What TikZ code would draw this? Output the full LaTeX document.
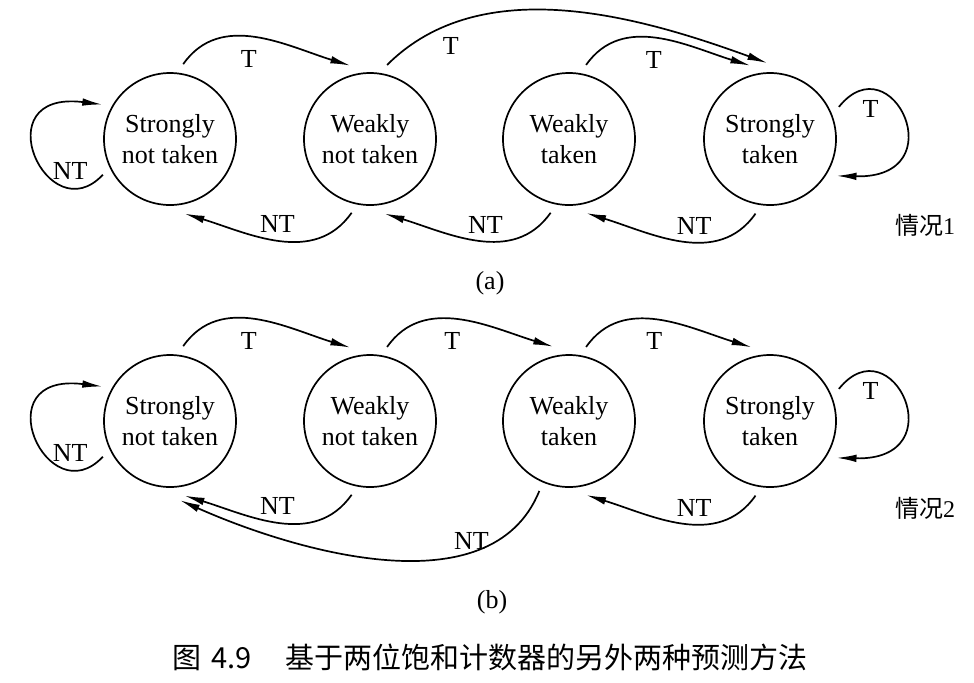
\documentclass[tikz,border=0pt]{standalone}
\usepackage{fontspec}
\setmainfont{Liberation Serif}
\newfontfamily\cjk{Noto Sans CJK SC}
\usetikzlibrary{arrows.meta}

\begin{document}
\begin{tikzpicture}[
        x = 0.5pt, y = 0.5pt,
        line width = 0.85pt, % line style
        >={Latex[length=10pt, width=3.8pt]}
    ]
    \tikzstyle{counter state}=[
        draw = black,
        line width = 0.85pt,
        circle,
        minimum size = 66pt,
        inner sep = 0pt,
        outer sep = 5pt,
        align = center,
        font = \fontsize{13}{15.5}\selectfont
    ]

    \tikzstyle{arc label}=[
        font = \fontsize{13}{15.5}\selectfont
    ]

    \tikzstyle{case label}=[
        font = \fontsize{12}{14}\selectfont
    ]

    \useasboundingbox (0, 0) rectangle (974, -682);

    % (a)
	\node[counter state] (snta) at (170, -139)   {Strongly\\not taken};
	\node[counter state] (wnta) at (370, -139)   {Weakly\\not taken};
	\node[counter state] (wta)  at (569, -139)   {Weakly\\taken};
	\node[counter state] (sta)  at (770, -139)   {Strongly\\taken};

	\path[->] (snta.80) edge [out=55, in=163] node[arc label, pos=0.45, below=3pt] {T} (wnta.105);
	\path[->] (wnta.77) edge [out=45, in=160, looseness=0.9] node[arc label, pos=0.2, below=3pt] {T} (sta.92);
	\path[->] (wta.77) edge [out=55, in=163] node[arc label, pos=0.47, below=3pt] {T} (sta.105);
	\path[->] (wnta.-104) edge [out=-125, in=-17] node[arc label, pos=0.5, above] {NT} (snta.-79);
	\path[->] (wta.-104) edge [out=-125, in=-17] node[arc label, pos=0.45, above] {NT} (wnta.-79);
	\path[->] (sta.-101) edge [out=-125, in=-17] node[arc label, pos=0.42, above] {NT} (wta.-77);
	\draw[->] (snta.208) .. controls +(-55, -59) and +(-120, 15) .. (snta.153)
	    node[arc label, pos=0.2, above=3pt, inner sep=1pt] {NT};
	\draw[->] (sta.25) .. controls +(53, 66) and +(120, -3) .. (sta.-29)
	    node[arc label, pos=0.2, below=2pt] {T};

	\node[case label] (casea) at (925, -225) {{\cjk 情况}1};
	\node[arc label]  (capa)  at (490, -283) {(a)};

    % (b)
	\node[counter state] (sntb) at (170, -421)   {Strongly\\not taken};
	\node[counter state] (wntb) at (370, -421)   {Weakly\\not taken};
	\node[counter state] (wtb)  at (569, -421)   {Weakly\\taken};
	\node[counter state] (stb)  at (770, -421)   {Strongly\\taken};

	\path[->] (sntb.80) edge [out=55, in=163] node[arc label, pos=0.45, below=3pt] {T} (wntb.105);
	\path[->] (wntb.77) edge [out=55, in=163] node[arc label, pos=0.45, below=3pt] {T} (wtb.102);
	\path[->] (wtb.77) edge [out=55, in=163] node[arc label, pos=0.47, below=3pt] {T} (stb.104);
	\path[->] (wntb.-104) edge [out=-125, in=-17] node[arc label, pos=0.5, above] {NT} (sntb.-79);
	\path[->] (wtb.-113) edge [out=-112, in=-24, looseness=0.9, shorten >=4pt] node[arc label, pos=0.27, above, inner sep=1pt] {NT} (sntb.-88);
	\path[->] (stb.-101) edge [out=-125, in=-17] node[arc label, pos=0.42, above] {NT} (wtb.-77);
	\draw[->] (sntb.208) .. controls +(-55, -59) and +(-120, 15) .. (sntb.153)
	    node[arc label, pos=0.2, above=3pt, inner sep=1pt] {NT};
	\draw[->] (stb.25) .. controls +(53, 66) and +(120, -3) .. (stb.-29)
	    node[arc label, pos=0.2, below=2pt] {T};

	\node[case label] (caseb) at (925, -508) {{\cjk 情况}2};
	\node[arc label]  (capb)  at (492, -602) {(b)};

	\node[font=\fontsize{14.5}{17}\selectfont\cjk] (title) at (490, -657)
	    {图\hspace{5pt}4.9\hspace{17pt}基于两位饱和计数器的另外两种预测方法};

\end{tikzpicture}
\end{document}
